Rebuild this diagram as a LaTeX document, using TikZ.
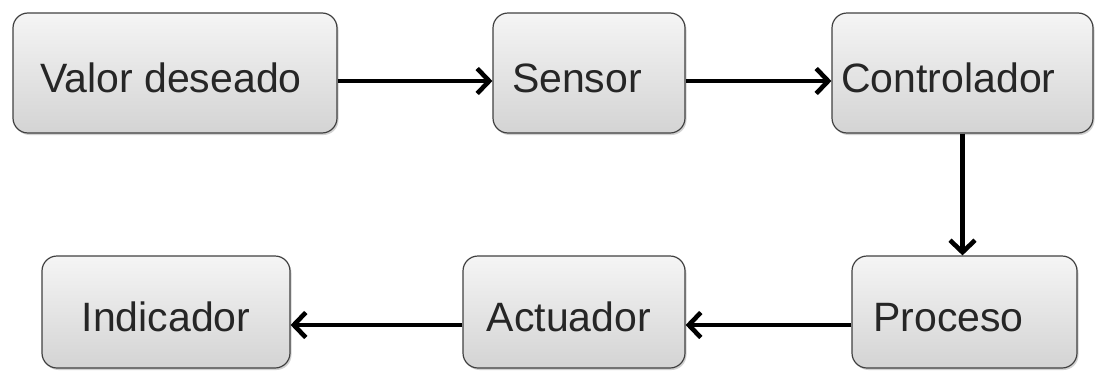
\documentclass[tikz,border=0pt]{standalone}
\usepackage{fontspec}
\setmainfont{Liberation Sans}
\usetikzlibrary{arrows.meta,shadows}

\tikzset{
  block/.style={
    draw=black!75, line width=1.2pt, rounded corners=15pt,
    top color=gray!8, bottom color=gray!34,
    drop shadow={shadow xshift=1.5pt, shadow yshift=-2pt, opacity=0.25, fill=black!70},
    text=black!85, font=\fontsize{41}{45}\selectfont,
    text height=39pt, text depth=0pt, inner sep=0pt
  },
  flow/.style={line width=4.6pt, -{Straight Barb[length=12pt,width=25pt]}}
}

\begin{document}
\begin{tikzpicture}[x=1pt, y=-1pt]
  \useasboundingbox (0,0) rectangle (1095,370);

  % upper row
  \node[block, minimum width=324pt, minimum height=120pt] (V) at (175,73) {Valor deseado\kern8pt};
  \node[block, minimum width=192pt, minimum height=120pt] (S) at (589,73) {Sensor\kern24pt};
  \node[block, minimum width=261pt, minimum height=120pt] (C) at (962.5,73) {Controlador\kern28pt};

  % lower row
  \node[block, minimum width=248pt, minimum height=112pt] (I) at (166,312) {Indicador};
  \node[block, minimum width=222pt, minimum height=112pt] (A) at (574,312) {Actuador\kern10pt};
  \node[block, minimum width=225pt, minimum height=112pt] (P) at (964.5,312) {Proceso\kern32pt};

  % connections
  \draw[flow] ([yshift=-8pt]V.east) -- ([yshift=-8pt]S.west);
  \draw[flow] ([yshift=-8pt]S.east) -- ([yshift=-8pt]C.west);
  \draw[flow] (C.south) -- (C.south |- P.north);
  \draw[flow] ([yshift=-13pt]P.west) -- ([yshift=-13pt]A.east);
  \draw[flow] ([yshift=-13pt]A.west) -- ([yshift=-13pt]I.east);
\end{tikzpicture}
\end{document}
